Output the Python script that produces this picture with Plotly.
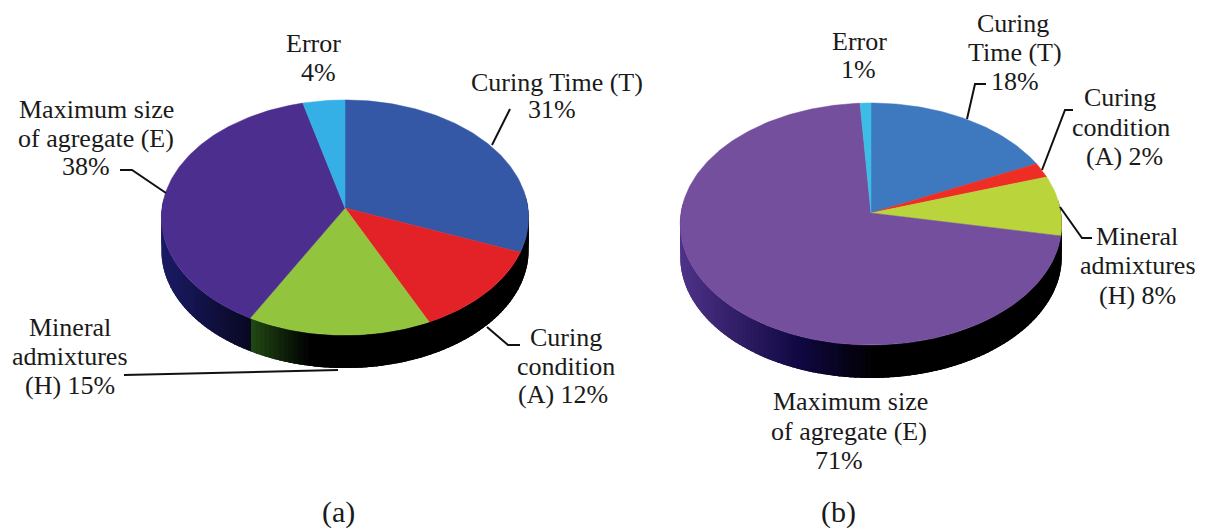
import numpy as np
import plotly.graph_objects as go

slice_names = ["Curing Time (T)", "Curing condition (A)", "Mineral admixtures (H)", "Maximum size of agregate (E)", "Error"]
values_a = [31, 12, 15, 38, 4]
values_b = [18, 2, 8, 71, 1]
colors_a = ["#3558a6", "#e32227", "#92c53d", "#4c2e8e", "#35b0e6"]
colors_b = ["#3e78bf", "#ee2e24", "#bad53c", "#744f9e", "#3dbde6"]

labels_a = [("Error", 313, 43), ("4%", 318, 72),
            ("Curing Time (T)", 557, 82), ("31%", 552, 109),
            ("Maximum size", 96, 109), ("of agregate (E)", 96, 138), ("38%", 86, 166),
            ("Curing", 566, 337), ("condition", 566, 366), ("(A) 12%", 563, 394),
            ("Mineral", 70, 327), ("admixtures", 70, 356), ("(H) 15%", 70, 385)]
labels_b = [("Error", 859, 41), ("1%", 858, 69),
            ("Curing", 1013, 23), ("Time (T)", 1015, 52), ("18%", 1015, 81),
            ("Curing", 1120, 97), ("condition", 1121, 127), ("(A) 2%", 1124, 156),
            ("Mineral", 1137, 236), ("admixtures", 1138, 265), ("(H) 8%", 1137, 295),
            ("Maximum size", 850, 401), ("of agregate (E)", 849, 431), ("71%", 839, 460)]
captions = [("(a)", 338, 512), ("(b)", 838, 512)]
leaders = [[(510, 109), (492, 145)],
           [(120, 170), (132, 170), (166, 193)],
           [(487, 327), (508, 345), (520, 345)],
           [(124, 375), (338, 370)],
           [(986, 84), (975, 84), (967, 119)],
           [(1073, 110), (1065, 110), (1042, 170)],
           [(1060, 207), (1082, 238), (1092, 238)]]

# pie geometry in the 1207x530 pixel space of the axes
geom_a = dict(cx=345, cy=208, rx=183, r=116.8, k=0.081, depth=33)
geom_b = dict(cx=871, cy=213, rx=190, r=120.0, k=0.0909, depth=33)


def project(t, g, drop=0.0):
    d = 1 + g["k"] * np.cos(t)
    return g["cx"] + g["rx"] * np.sin(t) / d, g["cy"] - g["r"] * np.cos(t) / d + drop


def mix(c1, c2, f):
    f = float(np.clip(f, 0, 1))
    return "rgb(%d,%d,%d)" % tuple(round(a + (b - a) * f) for a, b in zip(c1, c2))


def side_a(i, x):
    if i == 3:
        return mix((26, 26, 100), (8, 8, 34), (x - 165) / 85)
    if i == 2:
        return mix((34, 74, 20), (0, 0, 0), (x - 250) / 60)
    return "rgb(0,0,0)"


def side_b(i, x):
    if i == 3:
        if x < 800:
            return mix((78, 50, 135), (16, 8, 66), (x - 682) / 118)
        return mix((16, 8, 66), (0, 0, 0), (x - 800) / 75)
    return "rgb(0,0,0)"


fig = go.Figure()


def add_pie(values, colors, g, side):
    edges = 2 * np.pi * np.cumsum([0] + values) / sum(values)
    ts = np.radians(np.arange(276, 84, -1.5))  # each piece overlaps the one drawn next
    for a, b in zip(ts[:-1], ts[1:]):
        mid = (a + b) / 2
        i = int(np.searchsorted(edges, mid) - 1)
        # the start is held at the slice boundary; the overlap past the far end gets painted over
        tt = np.linspace(min(a, edges[i + 1]), b - np.radians(2.0), 4)
        x1, y1 = project(tt, g)
        x2, y2 = project(tt[::-1], g, g["depth"])
        c = side(i, float(project(mid, g)[0]))
        fig.add_trace(go.Scatter(x=np.r_[x1, x2, x1[0]], y=np.r_[y1, y2, y1[0]], mode="lines",
                                 fill="toself", fillcolor=c, line=dict(width=0),
                                 hoverinfo="skip", showlegend=False))
    for i, (a, b) in enumerate(zip(edges[:-1], edges[1:])):
        tt = np.linspace(a, b, max(3, int((b - a) * 60)))
        x, y = project(tt, g)
        fig.add_trace(go.Scatter(x=np.r_[g["cx"], x, g["cx"]], y=np.r_[g["cy"], y, g["cy"]], mode="lines",
                                 fill="toself", fillcolor=colors[i], line=dict(color=colors[i], width=0.5),
                                 name=slice_names[i], text=f"{slice_names[i]}: {values[i]}%", hoverinfo="text",
                                 showlegend=False))


add_pie(values_a, colors_a, geom_a, side_a)
add_pie(values_b, colors_b, geom_b, side_b)

shapes = []
for pts in leaders:
    path = "M " + " L ".join(f"{x},{y}" for x, y in pts)
    shapes.append(dict(type="path", path=path, xref="x", yref="y",
                       line=dict(color="#111111", width=2)))

annotations = []
for text, x, y in labels_a + labels_b:
    annotations.append(dict(text=text, x=x, y=y, xref="x", yref="y", showarrow=False,
                            font=dict(family="Liberation Serif", size=26, color="#1a1a1a")))
for text, x, y in captions:
    annotations.append(dict(text=text, x=x, y=y, xref="x", yref="y", showarrow=False,
                            font=dict(family="Liberation Serif", size=30, color="#1a1a1a")))

fig.update_layout(width=1207, height=530, margin=dict(l=0, r=0, t=0, b=0),
                  paper_bgcolor="white", plot_bgcolor="white", showlegend=False,
                  xaxis=dict(range=[0, 1207], visible=False),
                  yaxis=dict(range=[530, 0], visible=False),
                  shapes=shapes, annotations=annotations)
fig.write_html("out.html", config={"displayModeBar": False},
               post_script="document.body.style.margin='0';")
